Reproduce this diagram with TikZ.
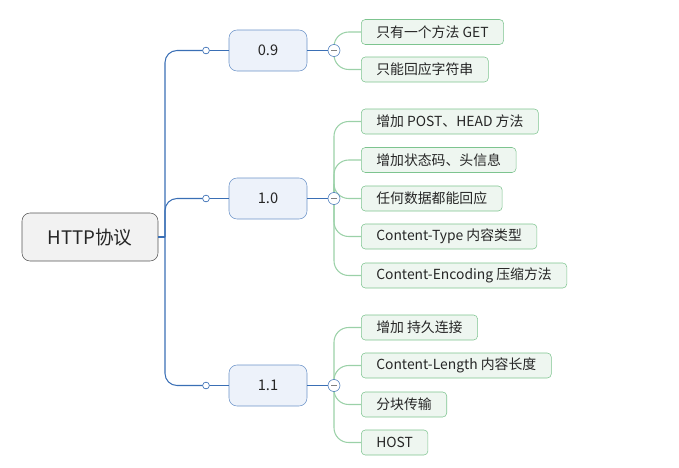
\documentclass[tikz,border=0pt]{standalone}
\usepackage{fontspec}
\usepackage{xcolor}
\setmainfont{Noto Sans CJK SC}

\definecolor{trunkblue}{HTML}{3A6FB5}
\definecolor{boxfill}{HTML}{EDF2FA}
\definecolor{boxline}{HTML}{6D94C9}
\definecolor{leaffill}{HTML}{EEF6F0}
\definecolor{leafline}{HTML}{7DC48F}
\definecolor{twig}{HTML}{9BD1A8}
\definecolor{rootfill}{HTML}{F2F2F2}
\definecolor{rootline}{HTML}{555555}
\definecolor{txt}{HTML}{262626}

\begin{document}
\begin{tikzpicture}[x=0.75pt,y=0.75pt,yscale=-1,xscale=1,
  rootbox/.style={draw=rootline,fill=rootfill,rounded corners=6pt,minimum width=102pt,minimum height=36pt,inner sep=0pt,text=txt,font=\fontsize{14}{16}\selectfont},
  verbox/.style={draw=boxline,fill=boxfill,rounded corners=6pt,minimum width=58.5pt,minimum height=30.75pt,inner sep=0pt,text=txt,font=\fontsize{11}{13}\selectfont},
  leafbox/.style={draw=leafline,fill=leaffill,rounded corners=3pt,anchor=west,minimum height=18.75pt,inner xsep=11.25pt,inner ysep=0pt,text=txt,font=\fontsize{10.4}{12}\selectfont},
  knot/.style={circle,draw=trunkblue,fill=white,inner sep=0pt,minimum size=5pt},
  fold/.style={circle,draw=trunkblue,fill=white,inner sep=0pt,minimum size=9pt,
    path picture={\draw[gray,line width=1.2pt] ([xshift=-2.2pt]path picture bounding box.center) -- ([xshift=2.2pt]path picture bounding box.center);}},
  trunk/.style={draw=trunkblue,line width=0.8pt,rounded corners=9pt},
  twigline/.style={draw=twig,line width=0.8pt,rounded corners=11pt}]
\useasboundingbox (0,0) rectangle (679,468);

% root and versions
\node [rootbox] (root) at (90,237) {HTTP协议};
\coordinate (hub) at (165,237);
\node [verbox] (v09) at (268,50.5) {0.9};
\node [verbox] (v10) at (268,198.5) {1.0};
\node [verbox] (v11) at (268,385.5) {1.1};
\node [knot] (d09) at (206,50.5) {};
\node [knot] (d10) at (206,198.5) {};
\node [knot] (d11) at (206,385.5) {};
\coordinate (f09) at (334,50.5);
\coordinate (f10) at (334,198.5);
\coordinate (f11) at (334,385.5);

% leaves
\node [leafbox] (a1) at (361,32) {只有一个方法 GET};
\node [leafbox] (a2) at (361,69.5) {只能回应字符串};
\node [leafbox] (b1) at (361,121.5) {增加 POST、HEAD 方法};
\node [leafbox] (b2) at (361,160) {增加状态码、头信息};
\node [leafbox] (b3) at (361,198.5) {任何数据都能回应};
\node [leafbox] (b4) at (361,236.5) {Content-Type 内容类型};
\node [leafbox] (b5) at (361,275.5) {Content-Encoding 压缩方法};
\node [leafbox] (c1) at (361,327.5) {增加 持久连接};
\node [leafbox] (c2) at (361,365.5) {Content-Length 内容长度};
\node [leafbox] (c3) at (361,404.5) {分块传输};
\node [leafbox] (c4) at (361,442.5) {HOST};

% connectors
\draw [draw=trunkblue,line width=0.8pt] (root.east) -- (hub);
\draw [trunk] (hub) |- (d09);
\draw [trunk] (hub) |- (d10);
\draw [trunk] (hub) |- (d11);
\foreach \v in {09,10,11} {
  \draw [draw=trunkblue,line width=0.8pt] (d\v) -- (v\v.west);
  \draw [draw=trunkblue,line width=0.8pt] (v\v.east) -- (f\v);
}
\foreach \l in {a1,a2} \draw [twigline] (f09) |- (\l.west);
\foreach \l in {b1,b2,b3,b4,b5} \draw [twigline] (f10) |- (\l.west);
\foreach \l in {c1,c2,c3,c4} \draw [twigline] (f11) |- (\l.west);

\node [knot] at (d09) {};
\node [knot] at (d10) {};
\node [knot] at (d11) {};
\node [fold] (m09) at (f09) {};
\node [fold] (m10) at (f10) {};
\node [fold] (m11) at (f11) {};
\end{tikzpicture}
\end{document}
